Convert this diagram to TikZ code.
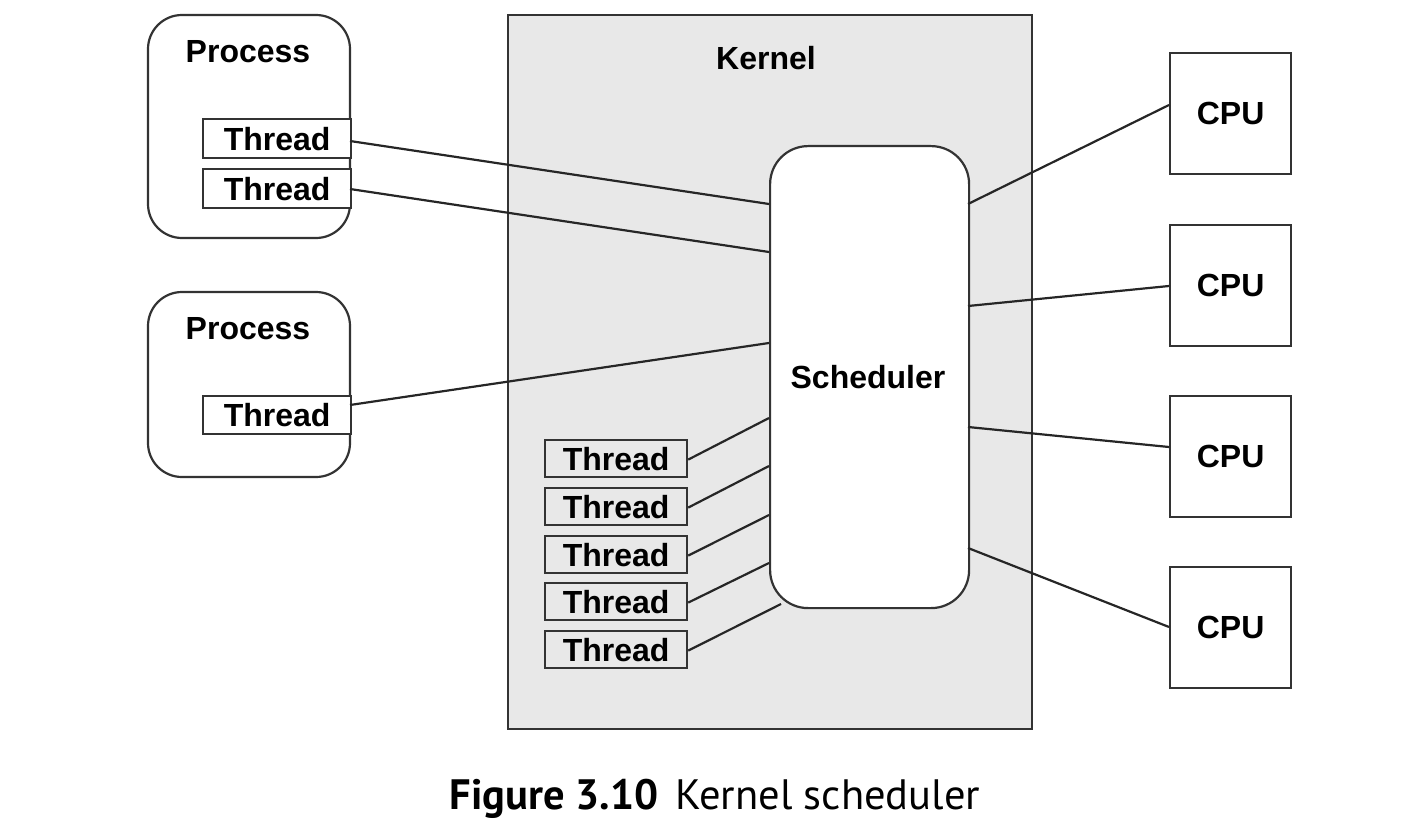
\documentclass[tikz,border=0pt]{standalone}
\usepackage{fontspec}
\setmainfont{Liberation Sans}
\newfontfamily\capfont{PT Sans}
\begin{document}
\begin{tikzpicture}[x=1pt,y=-1pt,
  line width=2.2pt, draw=black!80,
  lbl/.style={font=\fontsize{32}{34}\selectfont\bfseries, text=black},
  proc/.style={draw=black!80, line width=2.2pt, rounded corners=34pt, fill=white},
  thr/.style={draw=black!80, line width=2.2pt, fill=white, inner sep=0pt, font=\fontsize{32}{34}\selectfont\bfseries},
  kthr/.style={thr, fill=black!9},
  cpu/.style={draw=black!80, line width=2.2pt, fill=white, inner sep=0pt, minimum width=121pt, minimum height=121pt, font=\fontsize{32}{34}\selectfont\bfseries},
  conn/.style={draw=black!85, line width=2.2pt}]
\useasboundingbox (0,0) rectangle (1422,840);
% kernel
\node[draw=black!80, line width=2.2pt, fill=black!9, minimum width=524pt, minimum height=714pt, inner sep=0pt, anchor=north west] (kernel) at (507,14) {};
\node[lbl] (klbl) at (766,58) {Kernel};
% processes
\draw[proc] (148,15) rectangle (350,238);
\node[lbl] (p1lbl) at (248,52) {Process};
\draw[proc] (148,292) rectangle (350,477);
\node[lbl] (p2lbl) at (248,329) {Process};
% process threads
\node[thr, minimum width=148pt, minimum height=39pt, anchor=north west] (t1) at (202,118) {Thread};
\node[thr, minimum width=148pt, minimum height=39pt, anchor=north west] (t2) at (202,168) {Thread};
\node[thr, minimum width=148pt, minimum height=38pt, anchor=north west] (t3) at (202,395) {Thread};
% scheduler
\node[draw=black!80, line width=2.2pt, fill=white, rounded corners=38pt, minimum width=199pt, minimum height=462pt, inner sep=0pt, anchor=north west] (sched) at (769,145) {};
\node[lbl] (slbl) at (868,377) {Scheduler};
% kernel threads
\foreach \i/\y in {1/439,2/487,3/535,4/582,5/630}
  \node[kthr, minimum width=142pt, minimum height=37pt, anchor=north west] (k\i) at (544,\y) {Thread};
% CPUs
\foreach \i/\y in {1/52,2/224,3/395,4/566}
  \node[cpu, anchor=north west] (c\i) at (1169,\y) {CPU};
% scheduler attachment points
\coordinate (a1) at (769,204);
\coordinate (a2) at (769,252);
\coordinate (a3) at (769,343);
\coordinate (b1) at (769,418);
\coordinate (b2) at (769,466);
\coordinate (b3) at (769,515);
\coordinate (b4) at (769,563);
\coordinate (b5) at (781,604);
\coordinate (r1) at (968,204);
\coordinate (r2) at (968,306);
\coordinate (r3) at (968,427);
\coordinate (r4) at (968,548);
\coordinate (t1e) at (350,141);
\coordinate (t2e) at (350,189);
\coordinate (t3e) at (350,405);
\coordinate (c1w) at (1169,105);
\coordinate (c2w) at (1169,286);
\coordinate (c3w) at (1169,447);
\coordinate (c4w) at (1169,627);
\draw[conn] (t1e) -- (a1);
\draw[conn] (t2e) -- (a2);
\draw[conn] (t3e) -- (a3);
\draw[conn] ([yshift=-1pt]k1.east) -- (b1);
\draw[conn] ([yshift=-1pt]k2.east) -- (b2);
\draw[conn] ([yshift=-1pt]k3.east) -- (b3);
\draw[conn] ([yshift=-1pt]k4.east) -- (b4);
\draw[conn] ([yshift=-1pt]k5.east) -- (b5);
\draw[conn] (r1) -- (c1w);
\draw[conn] (r2) -- (c2w);
\draw[conn] (r3) -- (c3w);
\draw[conn] (r4) -- (c4w);
% caption
\node[font=\capfont\fontsize{42.5}{46}\selectfont, text=black, anchor=base] (cap) at (715,809) {\textbf{Figure 3.10}\hspace{0.4em}Kernel scheduler};
\end{tikzpicture}
\end{document}
